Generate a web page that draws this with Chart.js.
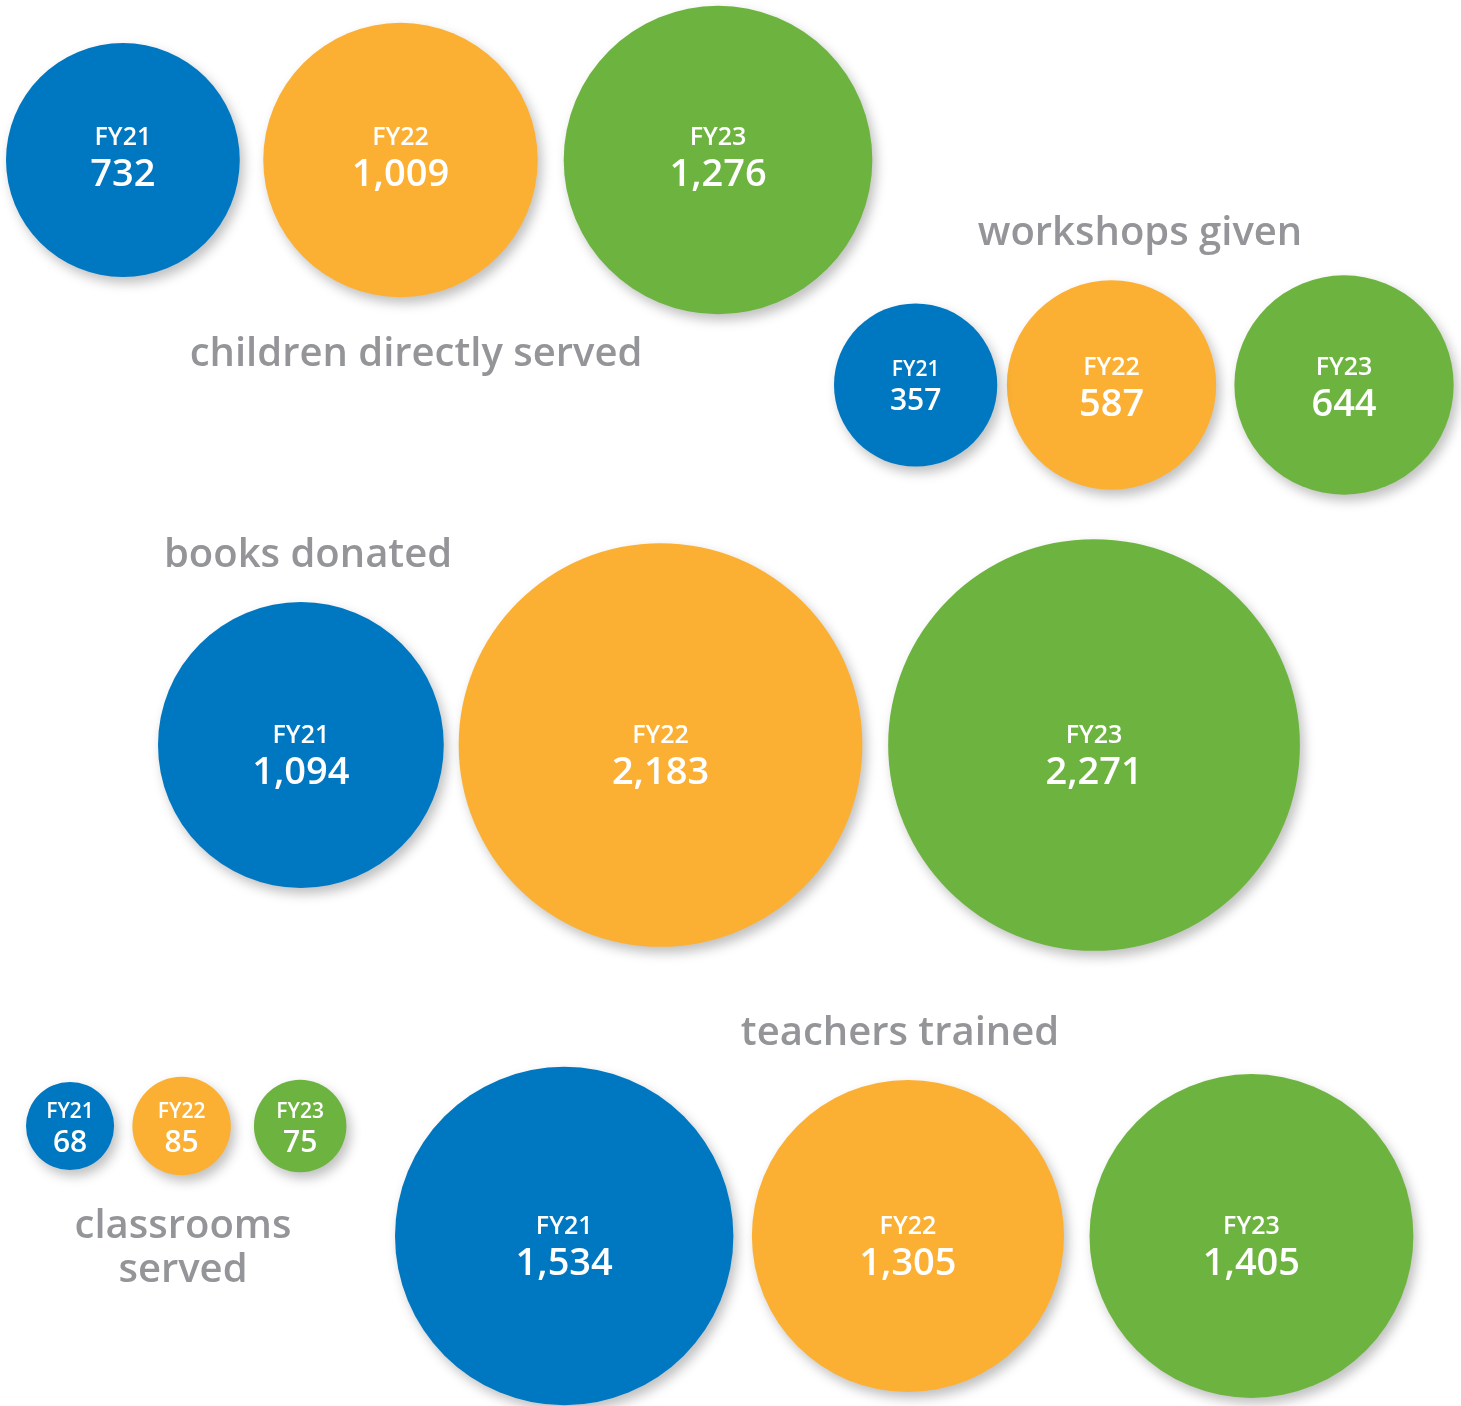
<!DOCTYPE html>
<html>
<head>
<meta charset="utf-8">
<script src="https://cdn.jsdelivr.net/npm/chart.js@4.4.0/dist/chart.umd.min.js"></script>
<style>
  html, body { margin: 0; padding: 0; background: #fff; }
  #wrap { width: 1461px; height: 1406px; }
</style>
</head>
<body>
<div id="wrap"><canvas id="chartImpacto"></canvas></div>
<script>
const categorias = ['children directly served', 'workshops given', 'books donated', 'classrooms served', 'teachers trained'];
const years = ['FY21', 'FY22', 'FY23'];
const fy21 = [732, 357, 1094, 68, 1534];
const fy22 = [1009, 587, 2183, 85, 1305];
const fy23 = [1276, 644, 2271, 75, 1405];
const colores = ['#0077c1', '#fbb034', '#6db33f'];

// layout de cada grupo: borde izquierdo, centro y, separaciones, escala del radio
const grupoX = [6, 834, 158, 26, 395];
const grupoY = [160, 385, 745, 1126, 1236];
const grupoGap = [[23.5, 26], [9.6, 18.2], [14.9, 25.8], [18.3, 23.1], [18.5, 25.5]];
const grupoEscala = [4.32, 4.32, 4.32, 5.34, 4.32];
const textoShift = [-6, -1, 7, 0, 7];
const tituloX = [416, 1140, 308, 183, 900];
const tituloY = [366, 245, 567, 1238, 1045];
const partir = [false, false, false, true, false];

const valores = [fy21, fy22, fy23];

function posiciones(g) {
  let x = grupoX[g];
  return valores.map((serie, i) => {
    const v = serie[g];
    const r = grupoEscala[g] * Math.sqrt(v);
    const p = { x: x + r, y: grupoY[g], r: r, v: v };
    x += 2 * r + (grupoGap[g][i] || 0);
    return p;
  });
}

const puntos = categorias.map((c, g) => posiciones(g));

const sombra = {
  id: 'sombra',
  beforeDatasetsDraw(chart) {
    const ctx = chart.ctx;
    ctx.save();
    ctx.shadowColor = 'rgba(0, 0, 0, 0.25)';
    ctx.shadowBlur = 12;
    ctx.shadowOffsetX = 4;
    ctx.shadowOffsetY = 6;
  },
  afterDatasetsDraw(chart) {
    chart.ctx.restore();
  }
};

const etiquetas = {
  id: 'etiquetas',
  afterDatasetsDraw(chart) {
    const ctx = chart.ctx;
    const sx = chart.scales.x, sy = chart.scales.y;
    ctx.save();
    ctx.textAlign = 'center';
    ctx.textBaseline = 'alphabetic';
    ctx.fillStyle = '#ffffff';
    chart.data.datasets.forEach((ds, d) => {
      chart.getDatasetMeta(d).data.forEach((el, g) => {
        const p = ds.data[g];
        const small = p.r < 90;
        const f1 = small ? 21 : 25;
        const f2 = small ? 30 : 38;
        const half = small ? 15.5 : 18;
        const mid = el.y + textoShift[g];
        ctx.font = '600 ' + f1 + 'px "Open Sans"';
        ctx.fillText(years[d], el.x, mid - half + f1 * 0.357);
        ctx.font = '600 ' + f2 + 'px "Open Sans"';
        ctx.fillText(p.v.toLocaleString('en-US'), el.x, mid + half + f2 * 0.357);
      });
    });

    ctx.fillStyle = '#939598';
    ctx.font = '600 40px "Open Sans"';
    categorias.forEach((c, g) => {
      const lineas = partir[g] ? c.split(' ') : [c];
      lineas.forEach((t, i) => {
        ctx.fillText(t, sx.getPixelForValue(tituloX[g]), sy.getPixelForValue(tituloY[g]) + i * 44);
      });
    });
    ctx.restore();
  }
};

const ctx = document.getElementById('chartImpacto');

new Chart(ctx, {
  type: 'bubble',
  data: {
    datasets: years.map((y, d) => ({
      label: y,
      data: puntos.map(p => p[d]),
      backgroundColor: colores[d],
      borderWidth: 0,
      hoverRadius: 0,
      clip: false
    }))
  },
  options: {
    responsive: true,
    maintainAspectRatio: false,
    animation: false,
    events: [],
    layout: { padding: 0, autoPadding: false },
    plugins: {
      legend: { display: false },
      tooltip: { enabled: false }
    },
    scales: {
      x: { type: 'linear', min: 0, max: 1461, display: false },
      y: { type: 'linear', min: 0, max: 1406, reverse: true, display: false }
    }
  },
  plugins: [sombra, etiquetas]
});
</script>
</body>
</html>
